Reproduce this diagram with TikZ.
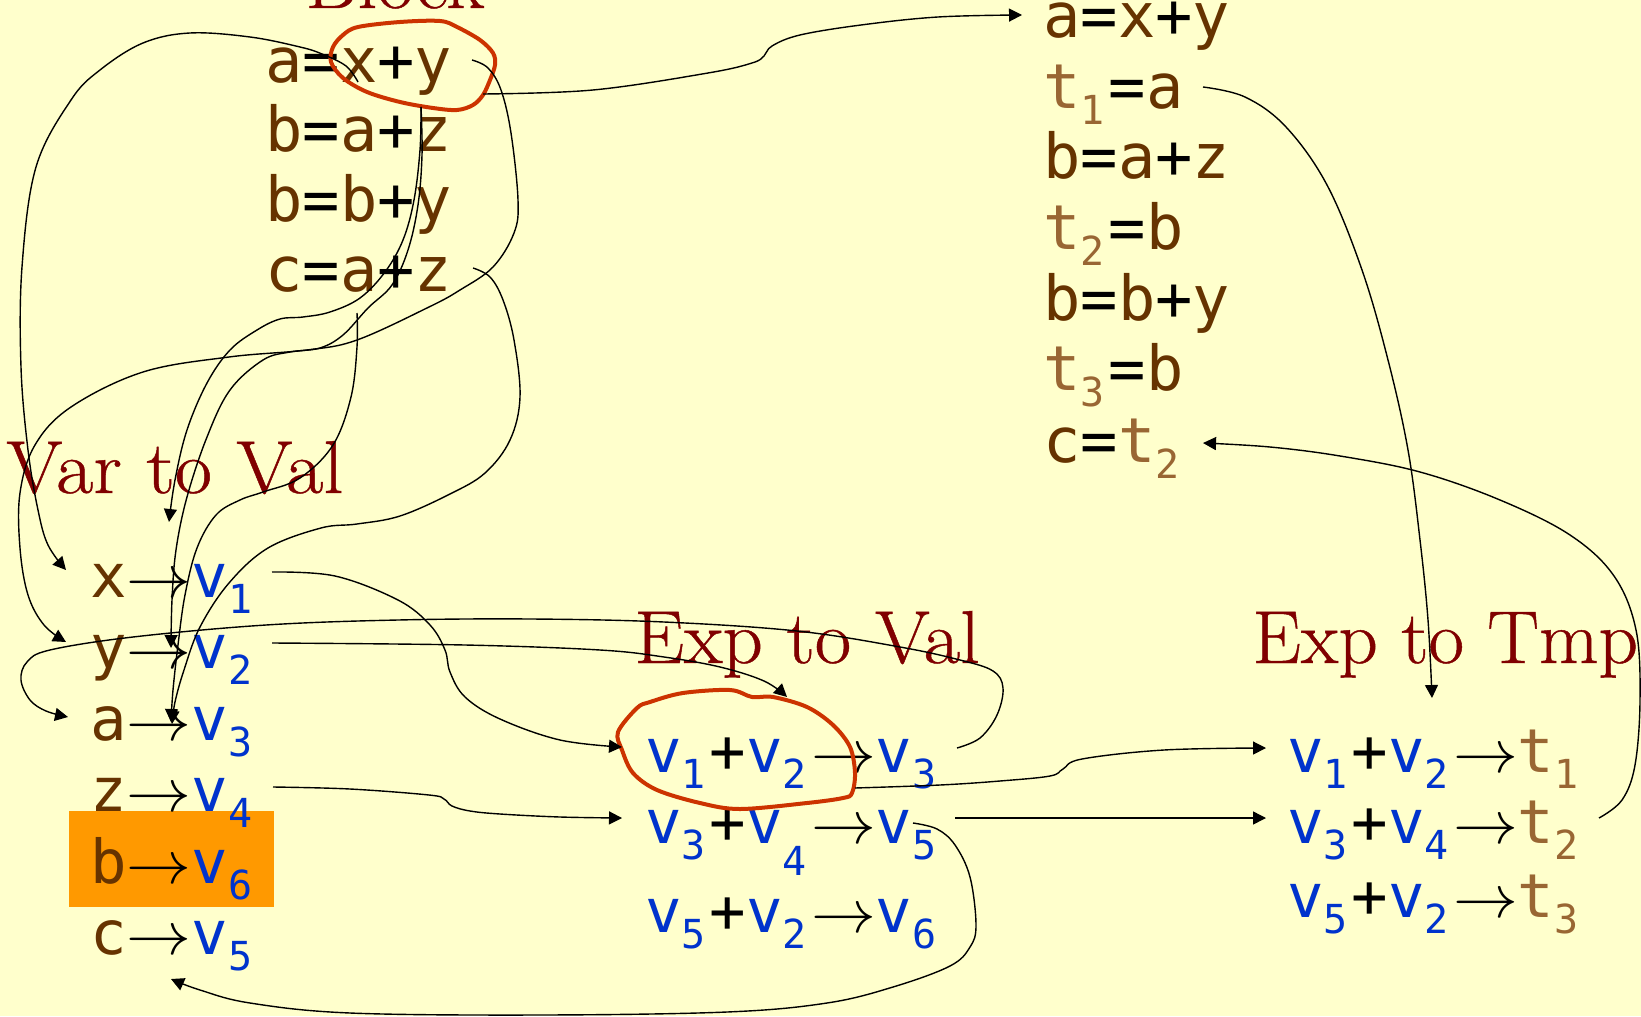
\RequirePackage{fix-cm}
\documentclass[tikz,border=0pt]{standalone}
\usepackage{fontspec}
\newfontfamily\monofnt{DejaVu Sans Mono}
\newfontfamily\ttlfnt[FakeBold=0.6]{Latin Modern Roman}
\usetikzlibrary{arrows.meta}
\definecolor{bgc}{RGB}{255,255,204}
\definecolor{brn}{RGB}{102,51,0}
\definecolor{tbrn}{RGB}{153,102,51}
\definecolor{vblue}{RGB}{0,51,204}
\definecolor{ttl}{RGB}{128,0,0}
\definecolor{loopred}{RGB}{204,51,0}
\definecolor{hl}{RGB}{255,153,0}
\newcommand{\sbs}[1]{\raisebox{-8pt}{\fontsize{20}{20}\selectfont #1}\kern2pt}
\newcommand{\sbl}[1]{\raisebox{-16pt}{\fontsize{20}{20}\selectfont #1}\kern2pt}
\newcommand{\bw}[1]{\textcolor{brn}{#1}}
\newcommand{\vval}[1]{\textcolor{vblue}{v\sbs{#1}}}
\newcommand{\tval}[1]{\textcolor{tbrn}{t\sbs{#1}}}
\newcommand{\arr}{\scalebox{1.07}[1]{$\rightarrow$}}
\tikzset{
  mono/.style={inner sep=0pt, anchor=base west, font=\monofnt\fontsize{30.3}{36}\selectfont},
  monob/.style={inner sep=0pt, anchor=base west, font=\monofnt\fontsize{31}{36}\selectfont},
  ttlst/.style={inner sep=0pt, anchor=base west, text=ttl, font=\ttlfnt\fontsize{37.5}{40}\selectfont},
  conn/.style={line width=0.7pt, -{Triangle[length=6.5pt,width=6.5pt]}},
  redloop/.style={draw=loopred, line width=2pt},
}
\begin{document}
\begin{tikzpicture}[x=0.5pt,y=-0.5pt]
\fill[bgc] (0,0) rectangle (1641,1016);
\useasboundingbox (0,0) rectangle (1641,1016);
\fill[hl] (69,811) rectangle (274,907);

% titles
\node[ttlst] (tblock) at (305,8) {\scalebox{1.06}[1]{Block}};
\node[ttlst] (tvar) at (6,493) {\scalebox{1.078}[1]{Var to Val}};
\node[ttlst] (texp) at (634,663) {\scalebox{1.055}[1]{Exp to Val}};
\node[ttlst] (ttmp) at (1252,663) {\scalebox{1.03}[1]{Exp to Tmp}};

% left block
\node[monob] (bl1) at (265,83) {\bw{a}=\bw{x}+\bw{y}};
\node[monob] (bl2) at (265,152) {\bw{b}=\bw{a}+\bw{z}};
\node[monob] (bl3) at (265,221) {\bw{b}=\bw{b}+\bw{y}};
\node[monob] (bl4) at (265,291) {\bw{c}=\bw{a}+\bw{z}};

% right block
\node[monob] (br1) at (1043,38) {\bw{a}=\bw{x}+\bw{y}};
\node[monob] (br2) at (1043,108.5) {\tval{1}=\bw{a}};
\node[monob] (br3) at (1043,179) {\bw{b}=\bw{a}+\bw{z}};
\node[monob] (br4) at (1043,249.5) {\tval{2}=\bw{b}};
\node[monob] (br5) at (1043,320) {\bw{b}=\bw{b}+\bw{y}};
\node[monob] (br6) at (1043,390.5) {\tval{3}=\bw{b}};
\node[monob] (br7) at (1043,462) {\bw{c}=\tval{2}};

% var to val
\node[mono] (vr1) at (90,597) {\bw{x}\arr\vval{1}};
\node[mono] (vr2) at (90,668) {\bw{y}\arr\vval{2}};
\node[mono] (vr3) at (90,740) {\bw{a}\arr\vval{3}};
\node[mono] (vr4) at (90,811) {\bw{z}\arr\vval{4}};
\node[mono] (vr5) at (90,883) {\bw{b}\arr\vval{6}};
\node[mono] (vr6) at (90,954) {\bw{c}\arr\vval{5}};

% exp to val
\node[mono] (ev1) at (645,772) {\vval{1}+\vval{2}\arr\vval{3}};
\node[mono] (ev2) at (645,843) {\vval{3}+\textcolor{vblue}{v\sbl{4}}\arr\vval{5}};
\node[mono] (ev3) at (645,932) {\vval{5}+\vval{2}\arr\vval{6}};

% exp to tmp
\node[mono] (et1) at (1287,772) {\vval{1}+\vval{2}\arr\tval{1}};
\node[mono] (et2) at (1287,843) {\vval{3}+\vval{4}\arr\tval{2}};
\node[mono] (et3) at (1287,917) {\vval{5}+\vval{2}\arr\tval{3}};

% red loops
\draw[redloop] plot[smooth cycle, tension=0.55] coordinates {(331,62) (333,47) (343,35) (358,27) (400,22) (440,21) (457,27) (480,40) (493,53) (495,65) (490,80) (483,95) (473,105) (457,110) (433,108) (400,102) (367,92) (343,78)};
\draw[redloop] plot[smooth cycle, tension=0.55] coordinates {(618,732) (637,708) (650,702) (683,693) (730,690) (752,697) (773,697) (807,707) (833,725) (850,747) (855,773) (852,793) (843,798) (807,803) (740,809) (700,803) (657,790) (633,773) (622,750)};

% endpoints
\coordinate (c1s) at (358,82);  \coordinate (c1e) at (66,570);
\coordinate (c2s) at (472,60);  \coordinate (c2e) at (66,642);
\coordinate (pS) at (421,107);  \coordinate (pE) at (169,522);
\coordinate (qE) at (171,648);
\coordinate (sS) at (357,313);  \coordinate (sE) at (171,722);
\coordinate (uS) at (473,268);  \coordinate (uE) at (172,724);
\coordinate (vS) at (957,748);  \coordinate (vE) at (68,717);
\coordinate (wS) at (272,572);  \coordinate (wE) at (622,747);
\coordinate (xS) at (272,643);  \coordinate (xE) at (787,697);
\coordinate (yS) at (273,787);  \coordinate (yE) at (622,818);
\coordinate (zS) at (855,788);  \coordinate (zE) at (1266,748);
\coordinate (aaS) at (955,818); \coordinate (aaE) at (1266,818);
\coordinate (bbS) at (913,823); \coordinate (bbE) at (171,979);
\coordinate (ccS) at (1599,818); \coordinate (ccE) at (1203,443);
\coordinate (ddS) at (1203,87); \coordinate (ddE) at (1432,698);
\coordinate (aS) at (483,94);   \coordinate (aE) at (1022,15);

% connectors
\draw[conn] plot[smooth, tension=0.6] coordinates {(c1s) (346,66) (322,54) (300,47) (250,37) (190,33) (143,43) (100,70) (71,100) (36,167) (22,267) (21,367) (28,450) (38,510) (48,545) (c1e)};
\draw[conn] plot[smooth, tension=0.6] coordinates {(c2s) (488,68) (501,90) (511,133) (518,200) (514,233) (493,267) (460,290) (429,307) (357,340) (307,350) (229,357) (143,372) (71,407) (35,445) (20,493) (20,548) (28,595) (44,625) (c2e)};
\draw[conn] plot[smooth, tension=0.6] coordinates {(pS) (420,150) (414,200) (403,240) (385,272) (360,298) (330,312) (303,317) (280,319) (257,330) (230,350) (207,383) (187,430) (175,480) (pE)};
\draw[conn] plot[smooth, tension=0.6] coordinates {(pS) (422,155) (418,205) (408,250) (392,285) (368,308) (343,335) (320,348) (290,352) (263,360) (230,390) (207,437) (187,497) (176,550) (172,600) (qE)};
\draw[conn] plot[smooth, tension=0.6] coordinates {(sS) (357,347) (351,397) (333,445) (300,478) (263,492) (240,500) (216,515) (197,548) (185,595) (178,645) (173,690) (sE)};
\draw[conn] plot[smooth, tension=0.6] coordinates {(uS) (490,277) (503,300) (514,340) (520,397) (510,440) (485,473) (450,494) (400,516) (357,524) (321,528) (268,548) (229,583) (200,627) (184,670) (175,702) (uE)};
\draw[conn] plot[smooth, tension=0.6] coordinates {(vS) (980,738) (997,715) (1003,688) (993,671) (960,660) (900,647) (797,631) (664,622) (531,619) (398,620) (266,625) (133,637) (50,650) (27,662) (21,680) (30,700) (46,711) (vE)};
\draw[conn] plot[smooth, tension=0.6] coordinates {(wS) (335,576) (398,600) (430,625) (445,650) (450,672) (465,697) (500,719) (560,740) (wE)};
\draw[conn] plot[smooth, tension=0.6] coordinates {(xS) (465,645) (600,650) (664,657) (720,667) (764,681) (xE)};
\draw[conn] plot[smooth, tension=0.6] coordinates {(yS) (350,789) (429,795) (444,799) (452,806) (470,811) (500,814) (560,817) (yE)};
\draw[conn] plot[smooth, tension=0.6] coordinates {(zS) (940,785) (1000,781) (1050,776) (1063,769) (1082,759) (1164,750) (zE)};
\draw[conn] (aaS) -- (aaE);
\draw[conn] plot[smooth, tension=0.6] coordinates {(bbS) (937,829) (955,845) (970,877) (976,925) (970,947) (950,966) (893,987) (827,1003) (727,1012) (540,1015) (350,1013) (250,1003) (200,990) (bbE)};
\draw[conn] plot[smooth, tension=0.6] coordinates {(ccS) (1622,800) (1635,765) (1640,700) (1636,630) (1614,576) (1570,535) (1500,500) (1420,472) (1340,456) (1270,447) (ccE)};
\draw[conn] plot[smooth, tension=0.6] coordinates {(ddS) (1245,97) (1286,127) (1327,185) (1362,270) (1388,360) (1408,450) (1420,540) (1428,620) (ddE)};
\draw[conn] plot[smooth, tension=0.6] coordinates {(aS) (593,90) (708,73) (752,63) (764,56) (772,46) (800,35) (861,25) (938,17) (aE)};
\end{tikzpicture}
\end{document}
